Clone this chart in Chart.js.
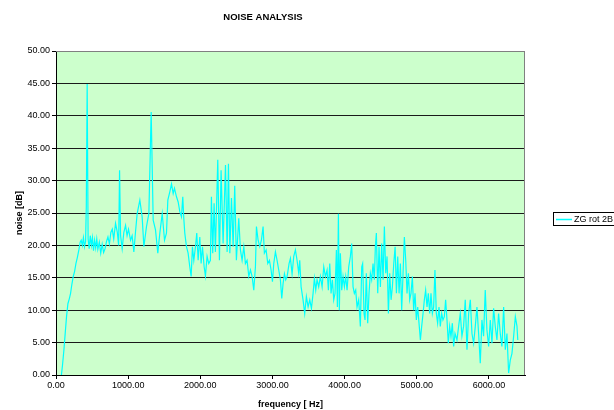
<!DOCTYPE html>
<html>
<head>
<meta charset="utf-8">
<script src="https://cdn.jsdelivr.net/npm/chart.js@4"></script>
<style>
  body { margin: 0; background: #fff; }
  #wrap { width: 614px; height: 410px; position: relative; }
</style>
</head>
<body>
<div id="wrap"><canvas id="noise-chart"></canvas></div>
<script>
// values
const seriesName = 'ZG rot 2B';
const freqHz = [
  75, 90, 110, 128, 146, 165, 185, 202, 220, 239, 258, 276, 297, 317, 335, 349, 365, 380, 395, 410,
  420, 432, 445, 460, 475, 490, 505, 520, 535, 550, 565, 580, 600, 620, 640, 660, 680, 700, 720, 740,
  760, 780, 800, 825, 850, 868, 881, 895, 917, 940, 964, 985, 1005, 1033, 1055, 1079, 1102, 1125, 1162, 1194,
  1218, 1254, 1287, 1319, 1347, 1379, 1411, 1439, 1472, 1504, 1531, 1550, 1578, 1601, 1624, 1642, 1670, 1693, 1716, 1739,
  1757, 1771, 1785, 1808, 1831, 1854, 1873, 1891, 1910, 1933, 1951, 1970, 1993, 2011, 2030, 2053, 2071, 2094, 2117, 2140,
  2154, 2172, 2191, 2209, 2242, 2265, 2288, 2316, 2349, 2372, 2390, 2409, 2432, 2455, 2477, 2500, 2533, 2556, 2579, 2603,
  2625, 2648, 2672, 2695, 2718, 2741, 2764, 2778, 2801, 2824, 2847, 2870, 2888, 2912, 2935, 2958, 2981, 3000, 3018, 3041,
  3064, 3087, 3110, 3129, 3147, 3166, 3184, 3203, 3230, 3249, 3272, 3295, 3318, 3341, 3364, 3378, 3397, 3424, 3447, 3470,
  3494, 3517, 3540, 3563, 3581, 3600, 3618, 3641, 3664, 3688, 3711, 3734, 3757, 3775, 3794, 3812, 3831, 3849, 3867, 3886,
  3900, 3914, 3927, 3941, 3960, 3978, 3997, 4015, 4034, 4057, 4080, 4098, 4117, 4135, 4154, 4172, 4195, 4218, 4237, 4250,
  4269, 4283, 4301, 4320, 4338, 4357, 4375, 4394, 4412, 4426, 4440, 4459, 4477, 4496, 4514, 4533, 4551, 4570, 4588, 4607,
  4625, 4644, 4662, 4681, 4700, 4718, 4736, 4755, 4773, 4791, 4810, 4828, 4847, 4865, 4884, 4902, 4920, 4939, 4957, 4976,
  4994, 5013, 5031, 5050, 5068, 5087, 5105, 5123, 5142, 5160, 5179, 5197, 5216, 5234, 5252, 5271, 5289, 5308, 5326, 5345,
  5363, 5382, 5400, 5419, 5437, 5456, 5474, 5493, 5511, 5530, 5557, 5580, 5603, 5626, 5649, 5672, 5696, 5719, 5742, 5765,
  5788, 5811, 5834, 5857, 5880, 5903, 5926, 5949, 5972, 5996, 6019, 6042, 6065, 6088, 6111, 6134, 6157, 6180, 6204, 6227,
  6250, 6273, 6296, 6319, 6342, 6366, 6389, 6400
];
const noiseDb = [
  0.0, 1.5, 3.9, 6.5, 9.0, 11.0, 11.8, 12.6, 14.0, 15.2, 16.0, 17.2, 18.2, 19.3, 20.5, 20.8, 20.0, 21.2, 19.8, 20.6,
  26.0, 44.9, 21.0, 19.5, 21.5, 20.0, 21.2, 19.2, 20.8, 19.6, 21.0, 19.4, 20.5, 18.8, 20.2, 18.9, 19.5, 20.6, 21.3, 20.2,
  22.0, 22.5, 21.0, 23.4, 22.0, 20.0, 31.6, 21.5, 19.5, 22.0, 23.1, 21.5, 22.5, 20.8, 21.5, 19.0, 22.1, 24.9, 27.0, 24.4,
  19.8, 22.9, 24.9, 40.6, 23.9, 22.4, 18.8, 21.9, 24.9, 20.8, 21.9, 27.0, 28.3, 29.5, 28.0, 28.8, 27.5, 26.7, 25.2, 24.4,
  27.5, 24.2, 21.9, 19.8, 18.8, 16.7, 15.2, 19.8, 17.7, 19.8, 21.9, 17.7, 21.3, 17.2, 19.8, 16.7, 15.3, 18.3, 17.2, 17.7,
  27.5, 18.8, 26.5, 19.0, 33.2, 17.7, 31.6, 20.3, 32.4, 19.0, 32.6, 18.8, 27.3, 19.8, 29.2, 17.7, 24.2, 19.3, 17.7, 19.8,
  17.2, 17.7, 15.2, 16.2, 15.2, 13.1, 16.7, 22.9, 20.8, 19.8, 20.8, 22.9, 18.8, 19.3, 17.2, 17.7, 16.2, 14.4, 17.2, 19.0,
  17.7, 16.2, 14.7, 11.8, 14.1, 15.6, 14.7, 15.2, 17.2, 18.0, 15.6, 18.3, 19.3, 17.7, 15.7, 17.7, 13.6, 11.6, 9.5, 12.1,
  10.5, 11.6, 10.3, 12.6, 14.9, 13.1, 14.7, 13.6, 15.2, 13.6, 16.7, 15.2, 16.2, 13.1, 17.2, 12.6, 14.7, 11.6, 12.6, 19.3,
  10.5, 24.9, 10.0, 18.8, 13.1, 15.2, 13.6, 15.2, 13.1, 16.7, 18.3, 20.3, 13.6, 12.6, 13.1, 10.5, 11.6, 7.5, 16.7, 17.2,
  9.5, 8.5, 15.7, 8.0, 12.6, 15.7, 14.7, 17.2, 14.7, 19.8, 21.9, 12.6, 19.8, 13.6, 20.3, 14.7, 22.9, 15.7, 18.3, 9.5,
  15.7, 11.6, 13.6, 17.2, 19.8, 12.6, 18.3, 12.6, 17.2, 10.0, 15.7, 21.3, 17.7, 12.6, 15.7, 11.6, 12.6, 15.2, 10.0, 12.6,
  8.5, 10.5, 8.0, 5.4, 7.5, 9.5, 11.6, 13.1, 10.5, 12.6, 9.5, 12.6, 9.5, 10.5, 16.2, 9.5, 8.0, 10.5, 7.5, 9.5,
  8.5, 9.0, 11.6, 8.5, 4.9, 7.5, 5.9, 8.0, 4.4, 6.4, 5.4, 7.5, 9.5, 6.0, 7.5, 11.6, 3.9, 9.5, 11.6, 6.4,
  4.9, 7.5, 10.5, 6.4, 1.8, 8.5, 6.0, 13.1, 7.0, 4.4, 8.5, 4.9, 10.3, 7.5, 5.4, 9.5, 6.4, 4.4, 10.5, 3.9,
  6.4, 0.3, 2.3, 3.3, 5.9, 9.0, 7.5, 5.4
];
const xTickValues = [0, 1000, 2000, 3000, 4000, 5000, 6000];
const yTickStep = 5;

const fontFamily = '"Liberation Sans", Arial, sans-serif';

// green plot background + grey frame
const plotFrame = {
  id: 'plotFrame',
  beforeDraw(chart) {
    const {ctx, chartArea: a} = chart;
    ctx.save();
    ctx.fillStyle = '#ccffcc';
    ctx.fillRect(a.left, a.top, a.right - a.left, a.bottom - a.top);
    ctx.restore();
  },
  beforeDatasetsDraw(chart) {
    const {ctx, chartArea: a} = chart;
    ctx.save();
    ctx.strokeStyle = '#808080';
    ctx.lineWidth = 1;
    ctx.beginPath();
    ctx.moveTo(a.left, a.top + 0.5);
    ctx.lineTo(a.right - 0.5, a.top + 0.5);
    ctx.lineTo(a.right - 0.5, a.bottom);
    ctx.stroke();
    ctx.restore();
  }
};

// title and boxed legend at fixed spots like the original
const sideTexts = {
  id: 'sideTexts',
  afterDraw(chart) {
    const ctx = chart.ctx;
    ctx.save();
    ctx.fillStyle = '#000';
    ctx.font = 'bold 9.5px ' + fontFamily;
    ctx.textAlign = 'center';
    ctx.textBaseline = 'middle';
    ctx.fillText('NOISE ANALYSIS', 263, 17);

    ctx.strokeStyle = '#000';
    ctx.lineWidth = 1;
    ctx.strokeRect(553.5, 212.5, 70, 13);
    ctx.strokeStyle = '#00ffff';
    ctx.lineWidth = 1.5;
    ctx.beginPath();
    ctx.moveTo(556, 219.5);
    ctx.lineTo(572, 219.5);
    ctx.stroke();
    ctx.font = '9px ' + fontFamily;
    ctx.textAlign = 'left';
    ctx.fillText(chart.data.datasets[0].label, 574, 219.5);
    ctx.restore();
  }
};

new Chart(document.getElementById('noise-chart').getContext('2d'), {
  type: 'scatter',
  data: {
    datasets: [{
      label: seriesName,
      data: freqHz.map((f, i) => ({x: f, y: noiseDb[i]})),
      showLine: true,
      borderColor: '#00ffff',
      backgroundColor: '#00ffff',
      borderWidth: 1.2,
      pointRadius: 0,
      tension: 0
    }]
  },
  options: {
    responsive: true,
    maintainAspectRatio: false,
    animation: false,
    layout: {padding: {top: 51, right: 89, left: 0, bottom: 0}},
    plugins: {
      legend: {display: false},
      title: {display: false},
      tooltip: {enabled: false}
    },
    scales: {
      x: {
        type: 'linear',
        min: 0,
        max: 6500,
        afterFit(scale) { scale.height = 35; },
        afterBuildTicks(scale) { scale.ticks = xTickValues.map(v => ({value: v})); },
        ticks: {
          maxRotation: 0,
          autoSkip: false,
          padding: 1,
          color: '#000',
          font: {family: fontFamily, size: 9},
          callback: v => v.toFixed(2)
        },
        grid: {drawOnChartArea: false, tickLength: 4, color: '#000'},
        border: {color: '#000', width: 1},
        title: {
          display: true,
          text: 'frequency [ Hz]',
          color: '#000',
          font: {family: fontFamily, size: 9, weight: 'bold'},
          padding: {top: 2, bottom: 0}
        }
      },
      y: {
        min: 0,
        max: 50,
        afterFit(scale) { scale.width = 56; },
        ticks: {
          stepSize: yTickStep,
          padding: 2,
          color: '#000',
          font: {family: fontFamily, size: 9},
          callback: v => v.toFixed(2)
        },
        grid: {
          tickLength: 4,
          color: ctx => ctx.tick && ctx.tick.value === 50 ? '#808080' : '#1a1a1a',
          tickColor: '#000'
        },
        border: {color: '#000', width: 1},
        title: {
          display: true,
          text: 'noise [dB]',
          color: '#000',
          font: {family: fontFamily, size: 9, weight: 'bold'},
          padding: {top: 14, bottom: 0}
        }
      }
    }
  },
  plugins: [plotFrame, sideTexts]
});
</script>
</body>
</html>
